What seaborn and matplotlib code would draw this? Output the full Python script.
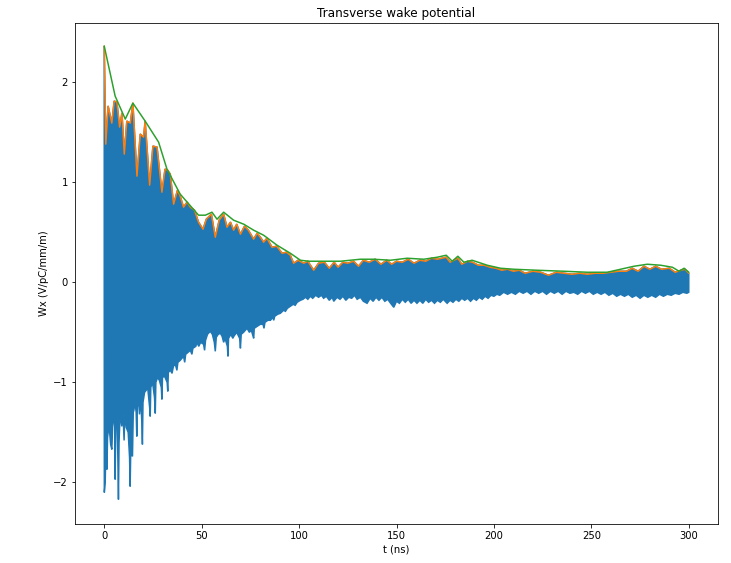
import numpy as np
import pandas as pd
import matplotlib
matplotlib.use("Agg")
import matplotlib.pyplot as plt
import seaborn as sns

# Lower envelope of the wake signal (blue)
t_low = [0.0, 0.05, 0.5, 0.9, 1.2, 1.4, 1.7, 2.2, 2.8, 3.3, 3.9, 4.3, 5.0, 5.4, 5.6, 5.9, 6.6, 7.0,
         7.3, 7.6, 8.2, 9.0, 9.6, 10.2, 10.6, 11.3, 12.3, 13.0, 13.3, 13.6, 14.5, 14.9, 15.2, 15.8,
         16.4, 16.7, 17.0, 17.6, 18.1, 18.7, 19.3, 19.6, 19.9, 20.7, 21.5, 22.3, 23.3, 23.6, 23.9,
         24.8, 25.8, 26.2, 26.5, 27.4, 28.3, 29.3, 29.6, 29.9, 31.0, 32.3, 32.6, 32.9, 34.0, 34.8,
         35.5, 36.5, 37.3, 37.8, 39.0, 40.7, 41.3, 41.8, 43.0, 44.2, 45.0, 45.5, 47.0, 47.6, 48.5,
         49.5, 51.0, 51.5, 52.0, 53.0, 54.4, 55.5, 56.5, 57.0, 57.5, 58.5, 59.6, 60.5, 61.3, 62.0,
         63.2, 63.5, 63.8, 65.0, 66.0, 66.5, 68.0, 69.5, 69.9, 70.3, 71.5, 73.3, 74.5, 75.5, 76.4,
         76.7, 77.0, 78.5, 80.1, 81.5, 82.0, 82.5, 84.0, 85.3, 86.5, 87.0, 87.5, 89.0, 90.4, 92.0,
         93.0, 94.0, 95.5, 97.0, 98.0, 99.0, 100.7, 102.0, 103.3, 104.5, 105.8, 107.0, 108.5,
         110.0, 111.5, 112.6, 114.0, 115.5, 117.0, 117.8, 119.5, 121.0, 122.5, 124.0, 125.5,
         127.0, 128.5, 129.8, 131.5, 133.0, 134.9, 136.5, 138.0, 139.5, 141.0, 142.5, 144.0,
         145.5, 147.0, 148.6, 150.0, 151.5, 153.0, 154.5, 156.0, 157.5, 159.0, 160.5, 162.0,
         163.5, 165.0, 166.5, 168.0, 169.5, 171.0, 172.5, 174.0, 176.0, 177.5, 179.0, 180.5,
         182.0, 183.5, 185.0, 186.5, 188.0, 189.5, 191.0, 192.5, 194.0, 195.5, 197.0, 198.5,
         200.0, 201.5, 203.0, 205.0, 207.0, 209.0, 211.0, 213.0, 215.0, 217.0, 219.0, 221.0,
         223.0, 225.0, 227.0, 229.0, 231.0, 233.0, 235.0, 237.0, 239.0, 241.0, 243.0, 245.0,
         247.0, 249.0, 251.0, 253.0, 255.0, 257.0, 259.0, 261.0, 263.0, 265.0, 267.0, 269.0,
         271.0, 273.0, 275.0, 277.0, 279.0, 281.0, 283.0, 285.0, 287.0, 289.0, 291.0, 293.0,
         295.0, 297.0, 299.0, 300.0]
w_low = [0.0, -2.10, -2.00, -1.60, -1.65, -1.87, -1.55, -1.47, -1.50, -1.62, -1.67, -1.45, -1.35,
         -1.40, -1.97, -1.45, -1.40, -1.75, -2.17, -1.60, -1.30, -1.44, -1.30, -1.58, -1.30, -1.45,
         -1.50, -1.75, -2.04, -1.70, -1.74, -1.30, -1.28, -1.20, -1.30, -1.54, -1.25, -1.15, -1.32,
         -1.15, -1.40, -1.62, -1.20, -1.10, -1.08, -1.05, -1.25, -1.34, -1.05, -1.00, -1.15, -1.31,
         -1.00, -0.95, -0.98, -1.05, -1.17, -0.95, -0.94, -1.00, -1.09, -0.90, -0.88, -0.91, -0.84,
         -0.82, -0.88, -0.80, -0.78, -0.74, -0.80, -0.72, -0.70, -0.68, -0.72, -0.66, -0.64, -0.60,
         -0.64, -0.60, -0.62, -0.68, -0.58, -0.52, -0.49, -0.52, -0.60, -0.69, -0.55, -0.52, -0.51,
         -0.54, -0.60, -0.56, -0.64, -0.74, -0.56, -0.52, -0.56, -0.54, -0.50, -0.56, -0.66, -0.52,
         -0.50, -0.46, -0.50, -0.48, -0.54, -0.56, -0.46, -0.44, -0.42, -0.42, -0.46, -0.40, -0.38,
         -0.38, -0.35, -0.38, -0.34, -0.32, -0.31, -0.28, -0.29, -0.26, -0.24, -0.22, -0.23, -0.20,
         -0.18, -0.17, -0.15, -0.17, -0.14, -0.16, -0.13, -0.15, -0.13, -0.16, -0.14, -0.18, -0.15,
         -0.19, -0.15, -0.17, -0.14, -0.18, -0.15, -0.16, -0.13, -0.17, -0.15, -0.19, -0.21, -0.16,
         -0.19, -0.15, -0.18, -0.15, -0.19, -0.17, -0.21, -0.25, -0.19, -0.21, -0.17, -0.20, -0.17,
         -0.21, -0.18, -0.21, -0.18, -0.21, -0.17, -0.20, -0.18, -0.21, -0.18, -0.20, -0.17, -0.21,
         -0.18, -0.20, -0.17, -0.19, -0.16, -0.18, -0.16, -0.19, -0.16, -0.18, -0.15, -0.17, -0.14,
         -0.16, -0.13, -0.14, -0.12, -0.13, -0.10, -0.12, -0.10, -0.12, -0.09, -0.11, -0.09, -0.12,
         -0.09, -0.11, -0.09, -0.12, -0.09, -0.11, -0.09, -0.12, -0.09, -0.11, -0.10, -0.12, -0.09,
         -0.11, -0.09, -0.12, -0.10, -0.12, -0.10, -0.13, -0.11, -0.14, -0.12, -0.14, -0.12, -0.15,
         -0.13, -0.16, -0.13, -0.15, -0.13, -0.15, -0.12, -0.14, -0.12, -0.13, -0.11, -0.12, -0.10,
         -0.11, -0.10]

# Peak line (orange), also the upper edge of the blue signal
t_peak = [0.0, 0.8, 2.0, 3.9, 5.1, 6.5, 7.9, 9.1, 10.3, 11.6, 13.4, 14.7, 16.8, 18.5, 20.2, 21.0,
          23.3, 25.0, 27.1, 29.6, 31.2, 32.5, 33.9, 35.6, 37.6, 39.0, 40.7, 42.5, 44.2, 46.3, 48.4,
          50.7, 52.4, 55.0, 57.0, 59.0, 61.3, 63.0, 64.8, 66.4, 68.0, 69.9, 72.0, 74.0, 76.7, 78.5,
          80.5, 81.8, 83.5, 86.1, 88.5, 91.3, 93.5, 95.5, 97.2, 99.5, 102.4, 104.5, 107.5, 110.0,
          113.0, 115.5, 118.0, 120.0, 122.5, 125.0, 128.0, 130.5, 133.0, 136.0, 139.0, 142.0, 145.0,
          147.5, 150.0, 153.0, 156.0, 159.0, 162.0, 165.0, 168.0, 171.0, 175.5, 177.5, 181.5, 183.5,
          186.5, 189.0, 192.0, 195.0, 198.0, 201.0, 204.0, 207.0, 210.0, 213.0, 216.0, 220.0, 224.0,
          228.0, 232.0, 236.0, 240.0, 244.0, 248.0, 252.0, 256.0, 260.0, 264.0, 268.0, 271.0, 274.0,
          277.0, 280.0, 283.0, 286.0, 290.0, 293.0, 296.0, 298.0, 300.0]
w_peak = [2.36, 1.38, 1.76, 1.59, 1.81, 1.80, 1.55, 1.69, 1.28, 1.61, 1.59, 1.79, 1.06, 1.48, 1.45,
          1.61, 0.97, 1.36, 1.35, 0.90, 1.13, 1.12, 1.08, 0.78, 0.92, 0.86, 0.75, 0.80, 0.75, 0.72,
          0.60, 0.53, 0.63, 0.68, 0.45, 0.62, 0.68, 0.55, 0.60, 0.52, 0.58, 0.48, 0.56, 0.52, 0.43,
          0.49, 0.44, 0.40, 0.44, 0.35, 0.36, 0.29, 0.30, 0.27, 0.19, 0.22, 0.19, 0.21, 0.12, 0.19,
          0.20, 0.14, 0.20, 0.15, 0.20, 0.19, 0.21, 0.16, 0.22, 0.20, 0.23, 0.18, 0.22, 0.18, 0.21,
          0.20, 0.23, 0.19, 0.22, 0.21, 0.24, 0.23, 0.25, 0.20, 0.24, 0.18, 0.21, 0.20, 0.17, 0.17,
          0.15, 0.14, 0.12, 0.13, 0.11, 0.12, 0.09, 0.11, 0.10, 0.07, 0.10, 0.09, 0.08, 0.09, 0.08,
          0.09, 0.09, 0.10, 0.11, 0.11, 0.14, 0.11, 0.16, 0.13, 0.16, 0.13, 0.14, 0.10, 0.12, 0.13,
          0.09]

# Smoothed envelope (green)
t_env = [0.0, 5.6, 10.8, 14.7, 21.0, 27.9, 32.2, 39.0, 48.4, 51.9, 55.3, 57.9, 61.3, 66.4, 71.6,
         76.7, 81.8, 88.7, 95.5, 100.7, 105.0, 112.6, 121.2, 131.5, 138.3, 146.9, 155.5, 164.0,
         170.9, 175.5, 178.6, 181.5, 184.6, 188.8, 196.6, 203.4, 210.2, 222.2, 235.9, 247.9, 258.2,
         265.0, 271.9, 278.7, 285.6, 291.6, 295.0, 297.6, 300.0]
w_env = [2.36, 1.86, 1.63, 1.79, 1.61, 1.40, 1.13, 0.88, 0.67, 0.67, 0.70, 0.63, 0.70, 0.62, 0.58,
         0.52, 0.47, 0.37, 0.29, 0.22, 0.21, 0.21, 0.21, 0.23, 0.23, 0.22, 0.24, 0.23, 0.25, 0.27,
         0.21, 0.26, 0.20, 0.22, 0.17, 0.14, 0.13, 0.12, 0.11, 0.10, 0.10, 0.13, 0.16, 0.18, 0.17,
         0.15, 0.11, 0.14, 0.10]

sns.set_style("ticks", {"axes.edgecolor": "black", "xtick.color": "black", "ytick.color": "black",
                        "axes.labelcolor": "black", "text.color": "black"})
plt.rcParams["font.family"] = ["DejaVu Sans"]

DPI = 72
fig = plt.figure(figsize=(731 / DPI, 563 / DPI), dpi=DPI)
ax = fig.add_axes([75 / 731, 39 / 563, 643 / 731, 501 / 563])

blue, orange, green = sns.color_palette("tab10")[:3]

# Blue signal band: upper edge along the peaks, back along the lower envelope
poly_t = list(t_peak) + list(t_low[::-1])
poly_w = list(w_peak) + list(w_low[::-1])
ax.fill(poly_t, poly_w, color=blue, linewidth=1.5, edgecolor=blue, zorder=1)

df_peak = pd.DataFrame({"t": t_peak, "w": w_peak})
df_env = pd.DataFrame({"t": t_env, "w": w_env})
sns.lineplot(data=df_peak, x="t", y="w", ax=ax, color=orange, linewidth=1.5,
             estimator=None, sort=False, zorder=2)
sns.lineplot(data=df_env, x="t", y="w", ax=ax, color=green, linewidth=1.5,
             estimator=None, sort=False, zorder=3)

ax.set_xlim(-15, 315)
ax.set_ylim(-2.415, 2.59)
ax.set_xticks([0, 50, 100, 150, 200, 250, 300])
ax.set_yticks([-2, -1, 0, 1, 2])
ax.set_title("Transverse wake potential", fontsize=12)
ax.set_xlabel("t (ns)", fontsize=10)
ax.set_ylabel("Wx (V/pC/mm/m)", fontsize=10)
ax.tick_params(labelsize=10, length=3.5, width=0.8)
for s in ax.spines.values():
    s.set_visible(True)
    s.set_linewidth(0.8)

fig.savefig("out.png", dpi=DPI)
